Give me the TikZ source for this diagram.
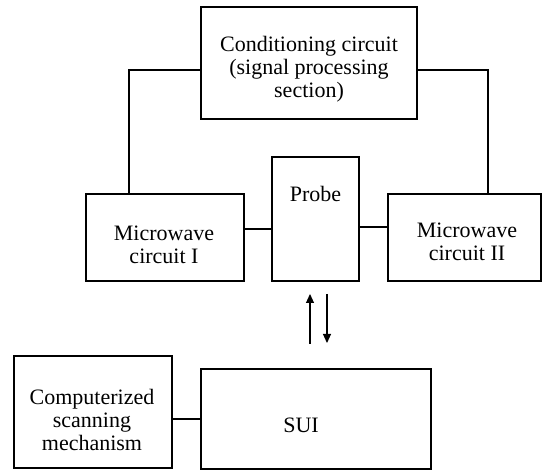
\documentclass[tikz,border=0pt]{standalone}
\usepackage{fontspec}
\setmainfont{Liberation Serif}
\usetikzlibrary{arrows.meta}
\begin{document}
\begin{tikzpicture}[x=1pt,y=-1pt,
  box/.style={draw, line width=1.1pt, rectangle, inner sep=0pt},
  lbl/.style={align=center, inner sep=0pt, font=\fontsize{22}{23}\selectfont},
  wire/.style={line width=1.1pt},
  arr/.style={line width=1.1pt, -{Triangle[length=9pt,width=8pt]}}]
\path[use as bounding box] (0,0) rectangle (542,470);
% boxes
\node[box, minimum width=216pt, minimum height=112pt] (cond) at (309,63) {};
\node[box, minimum width=158pt, minimum height=87pt] (mw1) at (165,237.5) {};
\node[box, minimum width=87pt, minimum height=124pt] (probe) at (315.5,219) {};
\node[box, minimum width=153pt, minimum height=87pt] (mw2) at (464.5,237.5) {};
\node[box, minimum width=158pt, minimum height=112pt] (comp) at (93,412) {};
\node[box, minimum width=230pt, minimum height=100pt] (sui) at (316,419) {};
% texts
\node[lbl] (tcond) at (309,69) {Conditioning circuit\\(signal processing\\section)};
\node[lbl] (tmw1) at (164,245) {Microwave\\circuit I};
\node[lbl] (tprobe) at (315.5,194) {Probe};
\node[lbl] (tmw2) at (467,242) {Microwave\\circuit II};
\node[lbl] (tcomp) at (92,420) {Computerized\\scanning\\mechanism};
\node[lbl] (tsui) at (301,425) {SUI};
% connectors
\draw[wire] ([yshift=-7pt]cond.west) -| ([xshift=-36pt]mw1.north);
\draw[wire] ([yshift=-7pt]cond.east) -| ([xshift=23.5pt]mw2.north);
\draw[wire] ([yshift=8.5pt]mw1.east) coordinate (a) -- (a -| probe.west);
\draw[wire] ([yshift=-8pt]probe.east) coordinate (b) -- (b -| mw2.west);
\draw[wire] ([yshift=-7pt]comp.east) coordinate (c) -- (c -| sui.west);
% arrows
\coordinate (u1) at (310,344);
\coordinate (u2) at (310,294);
\coordinate (d1) at (327,294);
\coordinate (d2) at (327,343);
\draw[arr] (u1) -- (u2);
\draw[arr] (d1) -- (d2);
\end{tikzpicture}
\end{document}
